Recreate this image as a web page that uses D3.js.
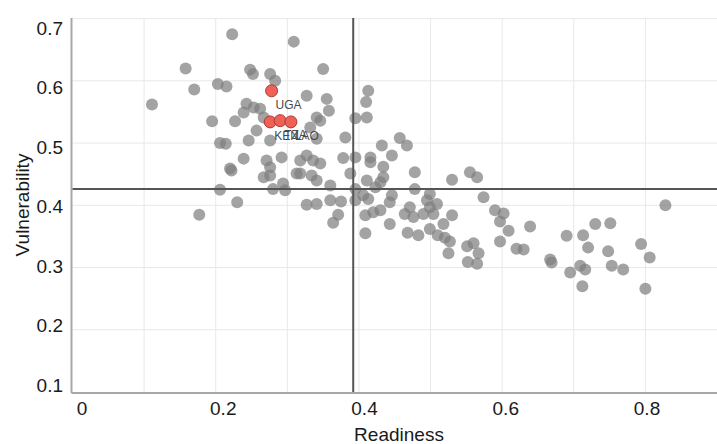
<!DOCTYPE html>
<html>
<head>
<meta charset="utf-8">
<script src="https://cdn.jsdelivr.net/npm/d3@7"></script>
<style>
  body { margin: 0; background: #fff; }
  svg { display: block; font-family: "Liberation Sans", Arial, sans-serif; }
</style>
</head>
<body>
<svg id="chart" width="717" height="444"></svg>
<script>
// readiness (x) and vulnerability (y) of all countries
const readiness = [
  0.223, 0.158, 0.170, 0.203, 0.215, 0.111, 0.195, 0.227, 0.206, 0.214,
  0.220, 0.222, 0.206, 0.230, 0.177, 0.239, 0.243, 0.239, 0.246, 0.309,
  0.248, 0.252, 0.276, 0.283, 0.350, 0.327, 0.355, 0.358, 0.253, 0.262,
  0.267, 0.257, 0.341, 0.346, 0.332, 0.276, 0.341, 0.271, 0.276, 0.292,
  0.318, 0.327, 0.336, 0.346, 0.318, 0.334, 0.341, 0.267, 0.276, 0.294,
  0.360, 0.280, 0.297, 0.313, 0.327, 0.341, 0.360, 0.375, 0.371, 0.364,
  0.381, 0.413, 0.410, 0.395, 0.411, 0.432, 0.457, 0.467, 0.378, 0.395,
  0.416, 0.416, 0.446, 0.434, 0.388, 0.411, 0.434, 0.430, 0.478, 0.395,
  0.478, 0.530, 0.555, 0.565, 0.395, 0.406, 0.413, 0.423, 0.446, 0.443,
  0.499, 0.495, 0.509, 0.499, 0.471, 0.464, 0.476, 0.430, 0.409, 0.420,
  0.490, 0.504, 0.530, 0.443, 0.518, 0.499, 0.409, 0.468, 0.483, 0.510,
  0.520, 0.527, 0.525, 0.551, 0.560, 0.567, 0.552, 0.565, 0.574, 0.590,
  0.602, 0.597, 0.609, 0.639, 0.597, 0.620, 0.630, 0.667, 0.669, 0.690,
  0.713, 0.730, 0.751, 0.720, 0.695, 0.709, 0.716, 0.712, 0.748, 0.753,
  0.769, 0.794, 0.806, 0.800, 0.828
];
const vulnerability = [
  0.675, 0.620, 0.586, 0.595, 0.591, 0.562, 0.535, 0.535, 0.500, 0.499,
  0.459, 0.456, 0.425, 0.405, 0.385, 0.549, 0.563, 0.475, 0.504, 0.663,
  0.618, 0.611, 0.611, 0.600, 0.619, 0.576, 0.571, 0.552, 0.557, 0.555,
  0.541, 0.520, 0.541, 0.536, 0.525, 0.504, 0.507, 0.472, 0.461, 0.477,
  0.472, 0.480, 0.472, 0.467, 0.451, 0.448, 0.440, 0.445, 0.448, 0.435,
  0.432, 0.426, 0.424, 0.451, 0.401, 0.402, 0.408, 0.406, 0.385, 0.372,
  0.509, 0.584, 0.566, 0.540, 0.541, 0.496, 0.508, 0.496, 0.476, 0.477,
  0.477, 0.469, 0.480, 0.462, 0.451, 0.440, 0.445, 0.437, 0.453, 0.426,
  0.426, 0.441, 0.453, 0.445, 0.408, 0.416, 0.410, 0.429, 0.416, 0.405,
  0.418, 0.408, 0.402, 0.397, 0.397, 0.386, 0.381, 0.392, 0.384, 0.389,
  0.386, 0.386, 0.384, 0.370, 0.370, 0.362, 0.355, 0.356, 0.352, 0.352,
  0.348, 0.342, 0.323, 0.334, 0.339, 0.323, 0.309, 0.306, 0.413, 0.392,
  0.387, 0.374, 0.359, 0.366, 0.342, 0.330, 0.329, 0.313, 0.308, 0.351,
  0.352, 0.370, 0.371, 0.332, 0.292, 0.303, 0.297, 0.270, 0.326, 0.303,
  0.297, 0.338, 0.316, 0.266, 0.400
];

// highlighted countries
const hlCodes = ["UGA", "KEN", "TZA", "LAO"];
const hlReadiness = [0.278, 0.276, 0.290, 0.305];
const hlVulnerability = [0.584, 0.534, 0.536, 0.534];

// reference lines (medians)
const refReadiness = 0.392;
const refVulnerability = 0.426;

const xTicks = [0, 0.2, 0.4, 0.6, 0.8];
const yTicks = [0.1, 0.2, 0.3, 0.4, 0.5, 0.6, 0.7];
const xGrid = [0.1, 0.2, 0.3, 0.4, 0.5, 0.6, 0.7, 0.8];
const yGrid = [0.2, 0.3, 0.4, 0.5, 0.6, 0.7];

const svg = d3.select("#chart");
const mLeft = 72.5, mRight = 717, mTop = 18, mBottom = 392;

let x = d3.scaleLinear().domain([0, 0.9]).range([mLeft, mRight]);
let y = d3.scaleLinear().domain([0.1, 0.7]).range([mBottom, mTop + 0.6]);
// tick labels sit slightly off their grid lines in the original
let xLab = d3.scaleLinear().domain([0, 0.8]).range([82, 647]);
let yLab = d3.scaleLinear().domain([0.1, 0.7]).range([385, 28]);

let defs = svg.append("defs");
defs.append("filter").attr("id", "soft")
  .append("feGaussianBlur").attr("stdDeviation", 0.7);

// grid
svg.append("g").selectAll("line").data(xGrid).enter().append("line")
  .attr("x1", d => x(d)).attr("x2", d => x(d))
  .attr("y1", mTop).attr("y2", mBottom)
  .attr("stroke", "#e8e8e8").attr("stroke-width", 1);
svg.append("g").selectAll("line").data(yGrid).enter().append("line")
  .attr("x1", mLeft).attr("x2", mRight)
  .attr("y1", d => y(d)).attr("y2", d => y(d))
  .attr("stroke", "#e8e8e8").attr("stroke-width", 1);

// axes lines
svg.append("line").attr("x1", mLeft - 1).attr("x2", mLeft - 1)
  .attr("y1", mTop).attr("y2", mBottom + 1)
  .attr("stroke", "#a8a8a8").attr("stroke-width", 2);
svg.append("line").attr("x1", mLeft - 1).attr("x2", mRight)
  .attr("y1", mBottom + 1).attr("y2", mBottom + 1)
  .attr("stroke", "#a8a8a8").attr("stroke-width", 2);

// tick labels
svg.append("g").selectAll("text").data(xTicks).enter().append("text")
  .attr("x", d => xLab(d)).attr("y", 415)
  .attr("text-anchor", "middle")
  .attr("font-size", 19).attr("fill", "#1a1a1a")
  .text(d => d3.format("")(d));
svg.append("g").selectAll("text").data(yTicks).enter().append("text")
  .attr("x", 63).attr("y", d => yLab(d))
  .attr("text-anchor", "end").attr("dominant-baseline", "central")
  .attr("font-size", 19).attr("fill", "#1a1a1a")
  .text(d => d3.format(".1f")(d));

// axis titles
svg.append("text").attr("x", 399).attr("y", 441)
  .attr("text-anchor", "middle").attr("font-size", 19).attr("fill", "#1a1a1a")
  .text("Readiness");
svg.append("text").attr("transform", "translate(29,205) rotate(-90)")
  .attr("text-anchor", "middle").attr("font-size", 19).attr("fill", "#1a1a1a")
  .text("Vulnerability");

// all countries
let pts = readiness.map((r, i) => [r, vulnerability[i]]);
svg.append("g").attr("filter", "url(#soft)")
  .selectAll("circle").data(pts).enter().append("circle")
  .attr("cx", d => x(d[0])).attr("cy", d => y(d[1]))
  .attr("r", 6)
  .attr("fill", "#808080").attr("opacity", 0.72);

// reference lines
svg.append("line")
  .attr("x1", x(refReadiness)).attr("x2", x(refReadiness))
  .attr("y1", mTop).attr("y2", mBottom)
  .attr("stroke", "#555").attr("stroke-width", 2);
svg.append("line")
  .attr("x1", mLeft).attr("x2", mRight)
  .attr("y1", y(refVulnerability)).attr("y2", y(refVulnerability))
  .attr("stroke", "#555").attr("stroke-width", 2);

// highlighted countries (their labels overlap in the original too)
let hl = hlCodes.map((c, i) => ({ code: c, r: hlReadiness[i], v: hlVulnerability[i] }));
svg.append("g").selectAll("circle").data(hl).enter().append("circle")
  .attr("cx", d => x(d.r)).attr("cy", d => y(d.v))
  .attr("r", 6)
  .attr("fill", "#ef6157").attr("stroke", "#a83a33").attr("stroke-width", 1);
svg.append("g").selectAll("text").data(hl).enter().append("text")
  .attr("x", d => x(d.r) + 4).attr("y", d => y(d.v) + 18)
  .attr("font-size", 12).attr("fill", "#4a4a4a")
  .text(d => d.code);
</script>
</body>
</html>
